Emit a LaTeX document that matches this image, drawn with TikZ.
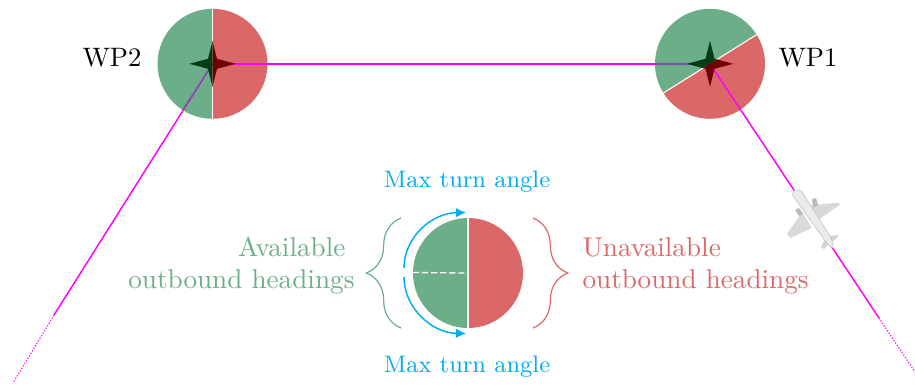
\documentclass[tikz,border=0pt]{standalone}
\usepackage{xcolor}
\usepackage{tikz}
\usetikzlibrary{arrows.meta,positioning,decorations.pathreplacing}
\definecolor{availcolor}{HTML}{6BAE88}
\definecolor{unavailcolor}{HTML}{DA6868}
\definecolor{availdark}{HTML}{003C14}
\definecolor{unavaildark}{HTML}{6E0000}
\definecolor{turncolor}{HTML}{00AEEF}
\definecolor{routecolor}{HTML}{FF00FF}
\definecolor{routeover}{HTML}{7A50AA}
\newcommand{\starpath}{(-23,0) -- (-4.5,5) -- (0,23) -- (4.5,5) -- (23,0) -- (4.5,-5) -- (0,-23) -- (-4.5,-5) -- cycle}
\tikzset{
    pics/headingdisc/.style={code={
        \fill[availcolor, rotate=#1] (0,55) arc (90:270:55) -- cycle;
        \fill[unavailcolor, rotate=#1] (0,55) arc (90:-90:55) -- cycle;
        \draw[white, line width=0.4pt, rotate=#1] (0,55) -- (0,-55);
    }},
    pics/headingstar/.style={code={
        \begin{scope}
            \clip[rotate=#1] (-30,-30) rectangle (0,30);
            \fill[availdark] \starpath;
        \end{scope}
        \begin{scope}
            \clip[rotate=#1] (0,-30) rectangle (30,30);
            \fill[unavaildark] \starpath;
        \end{scope}
    }}
}
\begin{document}
\begin{tikzpicture}[
        x=0.375pt,
        y=0.375pt,
        route/.style={routecolor, line width=0.55pt},
        routeend/.style={routecolor, line width=0.4pt, dash pattern=on 0.5pt off 0.6pt},
        routedim/.style={routeover, line width=0.55pt},
        turnarrow/.style={turncolor, line width=0.55pt, -{Latex[length=3.8pt,width=3.6pt]}},
        wplabel/.style={font=\fontsize{10}{12}\selectfont, text=black, inner sep=0pt},
        turnlabel/.style={font=\fontsize{8.95}{12}\selectfont, text=turncolor, inner sep=0pt},
        headlabel/.style={font=\fontsize{10.2}{12}\selectfont, inner sep=0pt}
    ]
        \useasboundingbox (0,0) rectangle (915,385);

        \coordinate (wptwo) at (212.5,321.2);
        \coordinate (wpone) at (710,321.2);
        \coordinate (legend) at (468,112);

        \pic at (wptwo) {headingdisc=0};
        \pic at (wpone) {headingdisc=-58};

        % inbound and outbound legs
        \coordinate (twosolid) at (54,70);
        \coordinate (twoend) at (13,2);
        \coordinate (onesolid) at (879,67);
        \coordinate (oneend) at (915,13);
        \coordinate (twoedge) at (183,275);
        \coordinate (oneedge) at (655,321.2);

        \draw[route] (wptwo) -- (wpone);
        \draw[route] (wptwo) -- (twosolid);
        \draw[routeend] (twosolid) -- (twoend);
        \draw[route] (wpone) -- (onesolid);
        \draw[routeend] (onesolid) -- (oneend);
        \draw[routedim] (wpone) -- (oneedge);
        \draw[routedim] (wptwo) -- (twoedge);

        \pic at (wptwo) {headingstar=0};
        \pic at (wpone) {headingstar=-58};

        \node[wplabel] (wptwolabel) at (112,327) {WP2};
        \node[wplabel] (wponelabel) at (808,327) {WP1};

        % aircraft
        \begin{scope}[shift={(0,385)}, yscale=-1]
            \fill[black!15] (807,206) -- (838,202.5) -- (840,204.5) -- (821,218) -- (815,223) -- cycle;
            \fill[black!15] (802,212) -- (787,234) -- (790,238) -- (812,228) -- cycle;
            \fill[black!27] (812,199) -- (816,198) -- (818,205) -- (813,208) -- cycle;
            \fill[black!27] (795,210) -- (799,208) -- (803,214) -- (799,216) -- cycle;
            \fill[black!17] (823,237) -- (838,235) -- (837,238) -- (830,243) -- cycle;
            \fill[black!17] (825,239) -- (821,247) -- (824,249) -- (830,243) -- cycle;
            \fill[black!8, draw=black!25, line width=0.2pt] (792.5,195) .. controls (792,189) and (799,188) .. (802,192)
                -- (830,236) .. controls (832,240) and (833,244) .. (833,248)
                .. controls (829,246) and (826,243) .. (823,238) -- cycle;
        \end{scope}

        % legend
        \pic at (legend) {headingdisc=0};
        \draw[white, line width=0.5pt, dash pattern=on 2.3pt off 1.1pt] (413,112.5) -- (legend);

        \coordinate (upstart) at (404,117);
        \coordinate (upend) at (466,172.5);
        \coordinate (downstart) at (404,108);
        \coordinate (downend) at (466,51.5);
        \draw[turnarrow] (upstart) .. controls (404,148) and (432,172) .. (upend);
        \draw[turnarrow] (downstart) .. controls (404,77) and (432,52) .. (downend);

        \node[turnlabel] (turnup) at (467,203) {Max turn angle};
        \node[turnlabel] (turndown) at (467,18) {Max turn angle};

        \coordinate (leftbottom) at (401,57);
        \coordinate (lefttop) at (401,167);
        \coordinate (rightbottom) at (533,57);
        \coordinate (righttop) at (533,167);
        \draw[availcolor, line width=0.45pt, decorate, decoration={brace, amplitude=13pt, aspect=0.5}] (leftbottom) -- (lefttop);
        \draw[unavailcolor, line width=0.45pt, decorate, decoration={brace, amplitude=13pt, aspect=0.5, mirror}] (rightbottom) -- (righttop);

        \node[headlabel, text=availcolor, anchor=east, align=right] (availtext) at (355,119)
            {Available\hspace{3.4pt}\mbox{}\\outbound headings};
        \node[headlabel, text=unavailcolor, anchor=west, align=left] (unavailtext) at (582,119)
            {Unavailable\\outbound headings};
    \end{tikzpicture}
\end{document}
